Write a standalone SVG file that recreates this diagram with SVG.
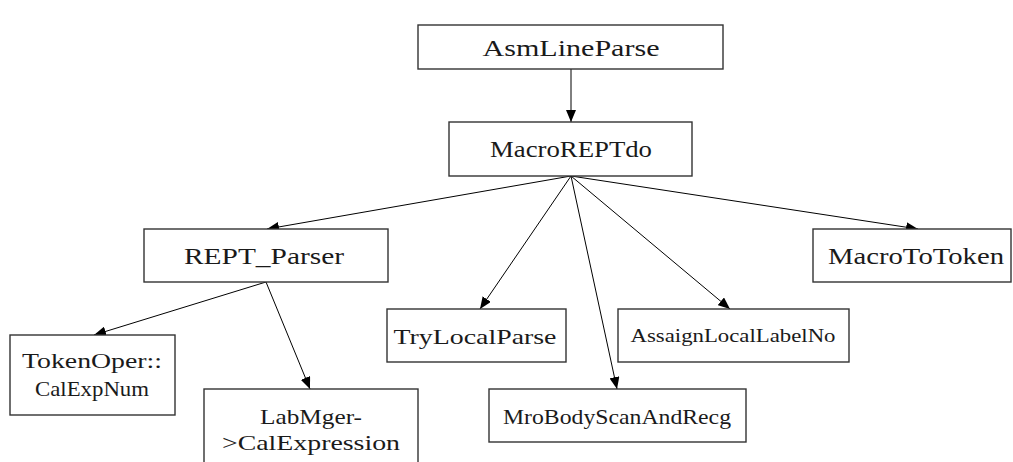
<svg xmlns="http://www.w3.org/2000/svg" width="1013" height="462" viewBox="0 0 1013 462">
  <style>
    .box { fill: #ffffff; stroke: #333333; stroke-width: 1.4; }
    .lbl { font-family: "Liberation Serif", "DejaVu Serif", serif; fill: #1a1a1a; text-anchor: middle; }
    .lg { font-size: 24px; }
    .md { font-size: 22px; }
    .sm { font-size: 19px; }
    .edge { stroke: #000000; stroke-width: 1; fill: none; marker-end: url(#arrow); }
  </style>
  <defs>
    <marker id="arrow" markerUnits="userSpaceOnUse" markerWidth="12" markerHeight="10" viewBox="0 0 12 10" refX="12" refY="5" orient="auto">
      <path d="M0,0 L12,5 L0,10 Z" fill="#000000"/>
    </marker>
  </defs>
  <rect width="1013" height="462" fill="#ffffff"/>

  <!-- call edges -->
  <g id="edges">
    <line class="edge" x1="571" y1="69" x2="571" y2="122"/>
    <line class="edge" x1="571" y1="176" x2="267" y2="229"/>
    <line class="edge" x1="571" y1="176" x2="480" y2="309"/>
    <line class="edge" x1="571" y1="176" x2="617" y2="389"/>
    <line class="edge" x1="571" y1="176" x2="730" y2="309"/>
    <line class="edge" x1="571" y1="176" x2="918" y2="229"/>
    <line class="edge" x1="266" y1="282" x2="94" y2="335"/>
    <line class="edge" x1="266" y1="282" x2="310" y2="389"/>
  </g>

  <g id="AsmLineParse">
    <rect class="box" x="418" y="25" width="305" height="44"/>
    <text class="lbl lg" x="571" y="56" textLength="177" lengthAdjust="spacingAndGlyphs">AsmLineParse</text>
  </g>

  <g id="MacroREPTdo">
    <rect class="box" x="449" y="122" width="243" height="54"/>
    <text class="lbl lg" x="571" y="157" textLength="162" lengthAdjust="spacingAndGlyphs">MacroREPTdo</text>
  </g>

  <g id="REPT_Parser">
    <rect class="box" x="144" y="229" width="244" height="53"/>
    <text class="lbl lg" x="264" y="264" textLength="160" lengthAdjust="spacingAndGlyphs">REPT_Parser</text>
  </g>

  <g id="MacroToToken">
    <rect class="box" x="813" y="229" width="198" height="53"/>
    <text class="lbl lg" x="916" y="264" textLength="176" lengthAdjust="spacingAndGlyphs">MacroToToken</text>
  </g>

  <g id="TryLocalParse">
    <rect class="box" x="387" y="309" width="179" height="53"/>
    <text class="lbl md" x="475" y="344" textLength="163" lengthAdjust="spacingAndGlyphs">TryLocalParse</text>
  </g>

  <g id="AssaignLocalLabelNo">
    <rect class="box" x="618" y="309" width="231" height="53"/>
    <text class="lbl sm" x="733" y="342" textLength="205" lengthAdjust="spacingAndGlyphs">AssaignLocalLabelNo</text>
  </g>

  <g id="MroBodyScanAndRecg">
    <rect class="box" x="489" y="389" width="257" height="53"/>
    <text class="lbl md" x="617" y="424" textLength="228" lengthAdjust="spacingAndGlyphs">MroBodyScanAndRecg</text>
  </g>

  <g id="CalExpNum">
    <rect class="box" x="10" y="335" width="165" height="80"/>
    <text class="lbl md" x="92" y="368" textLength="140" lengthAdjust="spacingAndGlyphs">TokenOper::</text>
    <text class="lbl md" x="92" y="396" textLength="114" lengthAdjust="spacingAndGlyphs">CalExpNum</text>
  </g>

  <g id="CalExpression">
    <rect class="box" x="204" y="389" width="214" height="90"/>
    <text class="lbl md" x="311" y="424" textLength="102" lengthAdjust="spacingAndGlyphs">LabMger-</text>
    <text class="lbl md" x="311" y="450" textLength="178" lengthAdjust="spacingAndGlyphs">&gt;CalExpression</text>
  </g>
</svg>
